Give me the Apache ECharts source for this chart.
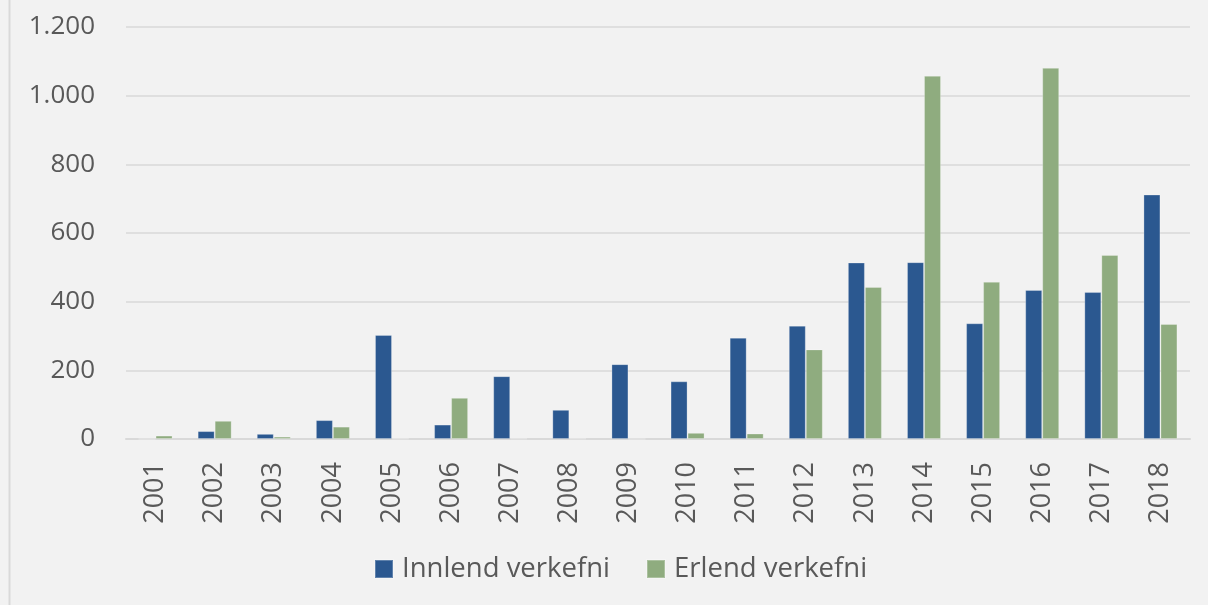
<!DOCTYPE html>
<html lang="is">
<head>
  <meta charset="UTF-8" />
  <title>Verkefni</title>
  <style>
    body { margin: 0; background: #f2f2f2 }
    #chart { width: 1208px; height: 605px }
  </style>
  <script src="https://cdn.jsdelivr.net/npm/echarts@6/dist/echarts.min.js"></script>
</head>
<body>
  <div id="chart"></div>
  <script>
    // ár
    const years = ['2001', '2002', '2003', '2004', '2005', '2006', '2007', '2008', '2009',
      '2010', '2011', '2012', '2013', '2014', '2015', '2016', '2017', '2018'];
    // Innlend verkefni
    const innlend = [0, 23, 15, 55, 303, 42, 183, 85, 218, 168, 295, 330, 514, 515, 337, 434, 428, 712];
    // Erlend verkefni
    const erlend = [10, 53, 7, 36, 1, 120, 1, 1, 0, 18, 16, 261, 443, 1058, 458, 1081, 536, 335];

    const chart = echarts.init(document.getElementById('chart'));
    const txt = '#595959';
    const font = '"Open Sans", "Noto Sans", sans-serif';

    chart.setOption({
      backgroundColor: '#f2f2f2',
      textStyle: { fontFamily: font },
      graphic: [{
        type: 'line',
        shape: { x1: 9.5, y1: 0, x2: 9.5, y2: 605 },
        style: { stroke: '#d9d9d9', lineWidth: 2 }
      }],
      grid: { left: 126, right: 18, top: 27, bottom: 166 },
      legend: {
        bottom: 17,
        left: 369,
        itemWidth: 18,
        itemHeight: 18,
        itemGap: 36,
        icon: 'rect',
        textStyle: { color: txt, fontSize: 27.5, fontFamily: font, padding: [0, 0, 0, 4] },
        data: ['Innlend verkefni', 'Erlend verkefni']
      },
      xAxis: {
        type: 'category',
        data: years,
        axisTick: { show: false },
        axisLine: { lineStyle: { color: '#d9d9d9', width: 2 } },
        axisLabel: { rotate: 90, color: txt, fontSize: 27, margin: 23, fontFamily: font }
      },
      yAxis: {
        type: 'value',
        min: 0,
        max: 1200,
        interval: 200,
        axisLine: { show: false },
        axisTick: { show: false },
        splitLine: { lineStyle: { color: '#d9d9d9', width: 1.5 } },
        axisLabel: {
          color: txt, fontSize: 26, margin: 31, fontFamily: font,
          formatter: v => String(v).replace(/\B(?=(\d{3})+(?!\d))/g, '.')
        }
      },
      series: [{
        name: 'Innlend verkefni',
        type: 'bar',
        data: innlend,
        barWidth: 17,
        barGap: '0%',
        itemStyle: { color: '#2b5890', borderColor: 'rgba(255,255,255,0.25)', borderWidth: 1 }
      }, {
        name: 'Erlend verkefni',
        type: 'bar',
        data: erlend,
        barWidth: 17,
        itemStyle: { color: '#8fac7f', borderColor: 'rgba(255,255,255,0.25)', borderWidth: 1 }
      }]
    });
  </script>
</body>
</html>
